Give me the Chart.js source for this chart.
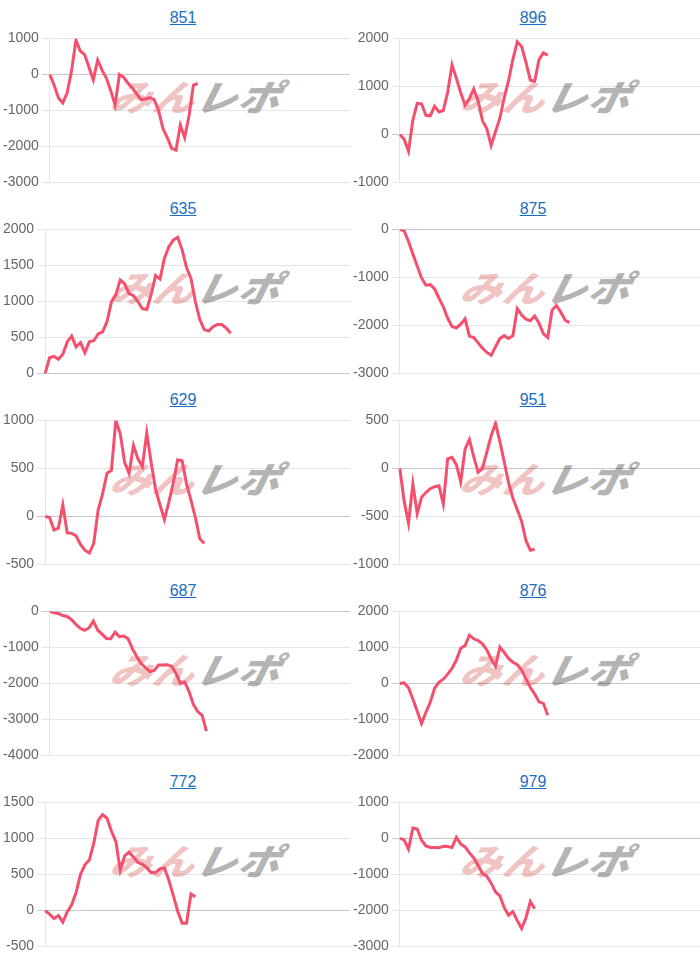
<!DOCTYPE html>
<html>
<head>
<meta charset="utf-8">
<script src="https://cdn.jsdelivr.net/npm/chart.js@4.4.0/dist/chart.umd.min.js"></script>
<style>
  body { margin: 0; background: #fff; font-family: "Liberation Sans", Arial, sans-serif; }
  .grid { display: flex; flex-wrap: wrap; width: 700px; }
  .panel { position: relative; width: 350px; height: 191px; }
  .title { height: 27px; line-height: 35px; padding-left: 16px; text-align: center; font-size: 16px; }
  .title a { color: #1b6ec2; text-decoration: underline; }
  .box { position: relative; width: 350px; height: 167px; }
  .box canvas { position: relative; z-index: 1; }
  .mark { position: absolute; left: 116px; top: 48px; z-index: 0; font-family: "Noto Sans CJK JP", sans-serif;
          font-weight: 900; font-style: italic; font-size: 36px; line-height: 40px; letter-spacing: 1px;
          white-space: nowrap; transform: skewX(-12deg) scaleX(1.15); transform-origin: left top; }
  .mark .a { color: rgba(222, 110, 110, 0.42); }
  .mark .b { color: #b4b4b4; }
</style>
</head>
<body>
<div class="grid" id="grid"></div>
<script>
const titles = ["851", "896", "635", "875", "629", "951", "687", "876", "772", "979"];

const s851 = [0, -300, -650, -790, -500, 100, 950, 650, 550, 200, -150, 400, 120, -100, -450, -850, 0, -80, -250, -380, -550, -700, -680, -640, -700, -1000, -1500, -1750, -2050, -2100, -1400, -1750, -1150, -300, -250];
const s896 = [0, -100, -350, 300, 650, 640, 400, 390, 590, 470, 500, 880, 1450, 1170, 870, 610, 750, 950, 700, 290, 120, -230, 60, 340, 770, 1120, 1570, 1930, 1830, 1500, 1130, 1110, 1560, 1700, 1650];
const s635 = [0, 220, 240, 200, 270, 440, 520, 370, 430, 290, 440, 455, 550, 580, 720, 995, 1095, 1300, 1245, 1110, 1080, 1000, 900, 890, 1100, 1360, 1310, 1600, 1760, 1850, 1890, 1720, 1470, 1320, 1000, 750, 610, 590, 650, 680, 680, 630, 560];
const s875 = [0, -30, -250, -510, -760, -1010, -1160, -1150, -1240, -1430, -1610, -1850, -2020, -2050, -1970, -1860, -2220, -2250, -2360, -2470, -2560, -2620, -2440, -2270, -2210, -2270, -2210, -1650, -1780, -1870, -1900, -1800, -1950, -2170, -2250, -1680, -1580, -1720, -1890, -1940];
const s629 = [0, -10, -140, -120, 120, -170, -175, -200, -290, -350, -380, -280, 70, 235, 450, 480, 1000, 860, 560, 450, 740, 600, 520, 870, 560, 280, 120, -30, 150, 350, 590, 580, 340, 170, -10, -230, -280];
const s951 = [0, -340, -570, -160, -470, -300, -250, -210, -190, -180, -370, 100, 115, 40, -140, 200, 300, 120, -40, 0, 170, 340, 470, 280, 70, -150, -310, -430, -550, -750, -850, -840];
const s687 = [0, -40, -60, -115, -140, -230, -360, -470, -525, -460, -270, -520, -630, -750, -760, -575, -700, -685, -760, -1040, -1260, -1445, -1560, -1670, -1640, -1490, -1490, -1480, -1520, -1720, -1990, -1960, -2220, -2580, -2780, -2880, -3320];
const s876 = [0, 20, -120, -430, -770, -1110, -800, -520, -130, 30, 120, 260, 420, 650, 980, 1050, 1340, 1240, 1190, 1100, 930, 680, 480, 1010, 860, 695, 590, 525, 370, 130, -110, -290, -510, -550, -880];
const s772 = [0, -50, -110, -70, -160, -20, 80, 250, 500, 635, 700, 930, 1250, 1330, 1280, 1100, 960, 560, 760, 810, 740, 670, 640, 595, 525, 530, 580, 590, 420, 210, -10, -175, -175, 230, 190];
const s979 = [0, -40, -300, 290, 260, -50, -210, -250, -250, -260, -220, -225, -250, 30, -150, -235, -400, -540, -750, -970, -1050, -1240, -1480, -1590, -1920, -2130, -2030, -2280, -2500, -2200, -1750, -1950];

const seriesList = [s851, s896, s635, s875, s629, s951, s687, s876, s772, s979];
const yMins = [-3000, -1000, 0, -3000, -500, -1000, -4000, -2000, -500, -3000];
const yMaxs = [1000, 2000, 2000, 0, 1000, 500, 0, 2000, 1500, 1000];
const ySteps = [1000, 1000, 500, 1000, 500, 500, 1000, 1000, 500, 1000];

// x axis has a fixed number of slots, data only fills part of it
const xSlots = 70;
const xLabels = Array.from({ length: xSlots }, (_, i) => String(i + 1));

const grid = document.getElementById("grid");

titles.forEach((title, i) => {
  const panel = document.createElement("div");
  panel.className = "panel";
  panel.innerHTML =
    '<div class="title"><a href="#">' + title + "</a></div>" +
    '<div class="box"><div class="mark"><span class="a">みん</span><span class="b">レポ</span></div>' +
    '<canvas id="c' + i + '"></canvas></div>';
  grid.appendChild(panel);

  new Chart(document.getElementById("c" + i), {
    type: "line",
    data: {
      labels: xLabels,
      datasets: [
        {
          data: seriesList[i],
          borderColor: "#f4506e",
          borderWidth: 3,
          pointRadius: 0,
          tension: 0,
          fill: false,
        },
      ],
    },
    options: {
      responsive: true,
      maintainAspectRatio: false,
      animation: false,
      layout: { padding: 0 },
      plugins: {
        legend: { display: false },
        tooltip: { enabled: false },
      },
      scales: {
        x: { display: false },
        y: {
          min: yMins[i],
          max: yMaxs[i],
          ticks: {
            stepSize: ySteps[i],
            color: "#666",
            font: { size: 14 },
            callback: (v) => String(v),
          },
          grid: {
            color: (ctx) => (ctx.tick && ctx.tick.value === 0 ? "rgba(0,0,0,0.22)" : "rgba(0,0,0,0.1)"),
          },
          border: { color: "rgba(0,0,0,0.1)" },
        },
      },
    },
  });
});
</script>
</body>
</html>
